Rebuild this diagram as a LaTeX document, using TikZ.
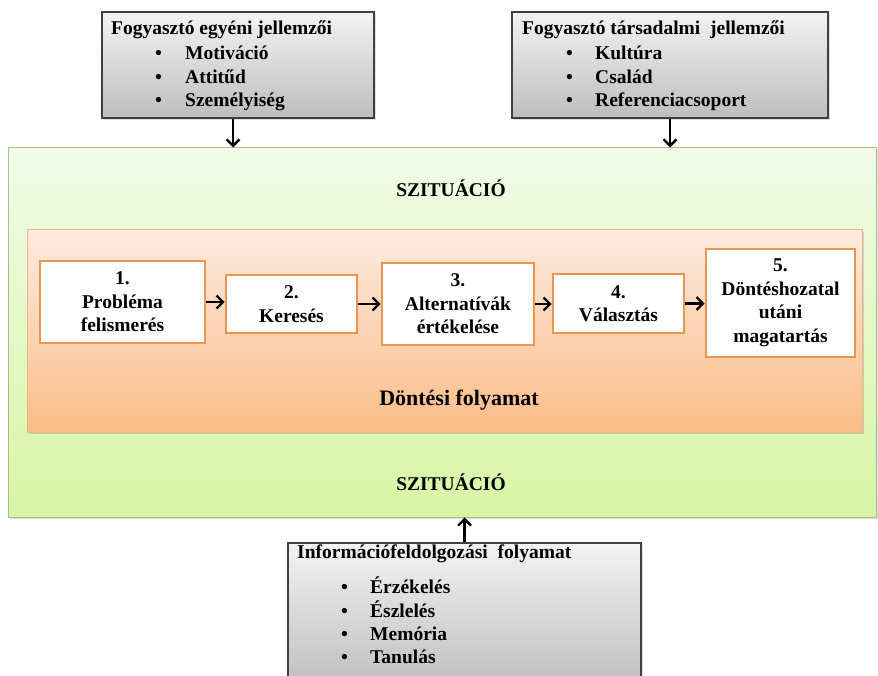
\documentclass[tikz,border=0pt]{standalone}
\usepackage{fontspec}
\setmainfont{Liberation Serif}
\usetikzlibrary{arrows.meta,shadows}
\definecolor{grayTop}{HTML}{F3F3F3}
\definecolor{grayBot}{HTML}{BDBDBD}
\definecolor{grayLine}{HTML}{404040}
\definecolor{greenTop}{HTML}{F1FBE7}
\definecolor{greenBot}{HTML}{D6F5A4}
\definecolor{greenLine}{HTML}{A8BD8C}
\definecolor{orTop}{HTML}{FDEADF}
\definecolor{orBot}{HTML}{FBBD88}
\definecolor{orLine}{HTML}{F0B488}
\definecolor{stepLine}{HTML}{EA9550}
\begin{document}
\begin{tikzpicture}[x=1pt,y=-1pt,
  graybox/.style={rectangle, draw=grayLine, line width=1.1pt, top color=grayTop, bottom color=grayBot, inner sep=0pt,
    drop shadow={opacity=0.25, shadow xshift=2pt, shadow yshift=-2pt}},
  greenbox/.style={rectangle, draw=greenLine, line width=1pt, top color=greenTop, bottom color=greenBot, inner sep=0pt,
    drop shadow={opacity=0.25, shadow xshift=2pt, shadow yshift=-2pt}},
  orangebox/.style={rectangle, draw=orLine, line width=1pt, top color=orTop, bottom color=orBot, inner sep=0pt,
    drop shadow={opacity=0.3, shadow xshift=2pt, shadow yshift=-2pt}},
  stepbox/.style={rectangle, draw=stepLine, line width=2.6pt, fill=white, inner sep=0pt, align=center,
    font=\fontsize{19.5}{23.5}\selectfont\bfseries},
  txt/.style={inner sep=0pt, font=\fontsize{19.5}{23.5}\selectfont\bfseries},
  line/.style={txt, anchor=base west},
  arr/.style={line width=2.4pt, -{Straight Barb[length=6.5pt,width=13pt]}}
]
\useasboundingbox (0,0) rectangle (878,676);

% top gray boxes
\node[graybox, minimum width=272pt, minimum height=106pt] (ind) at (238,65) {};
\node[graybox, minimum width=316pt, minimum height=106pt] (soc) at (670,65) {};

% green situation box
\node[greenbox, minimum width=868pt, minimum height=369pt] (sit) at (442,332.5) {};
% orange decision box
\node[orangebox, minimum width=835pt, minimum height=202pt] (dec) at (444.5,331) {};

% bottom gray box
\node[graybox, minimum width=353pt, minimum height=147pt] (info) at (464.5,616.5) {};

% texts of the top-left box
\node[line] (t1) at (111,35) {Fogyasztó egyéni jellemzői};
\node[line] (t1a) at (155,60) {\makebox[30pt][l]{•}Motiváció};
\node[line] (t1b) at (155,84) {\makebox[30pt][l]{•}Attitűd};
\node[line] (t1c) at (155,107) {\makebox[30pt][l]{•}Személyiség};

% texts of the top-right box
\node[line] (t2) at (522,35) {Fogyasztó társadalmi\ \ jellemzői};
\node[line] (t2a) at (566,60) {\makebox[29pt][l]{•}Kultúra};
\node[line] (t2b) at (566,84) {\makebox[29pt][l]{•}Család};
\node[line] (t2c) at (566,107) {\makebox[29pt][l]{•}Referenciacsoport};

% texts of the bottom box
\node[line] (t3) at (297,558) {Információfeldolgozási\ \ folyamat};
\node[line] (t3a) at (341,593) {\makebox[29pt][l]{•}Érzékelés};
\node[line] (t3b) at (341,617) {\makebox[29pt][l]{•}Észlelés};
\node[line] (t3c) at (341,640) {\makebox[29pt][l]{•}Memória};
\node[line] (t3d) at (341,663) {\makebox[29pt][l]{•}Tanulás};

% labels
\node[txt, anchor=base] (sz1) at (451,197) {SZITUÁCIÓ};
\node[txt, anchor=base] (sz2) at (451,490) {SZITUÁCIÓ};
\node[inner sep=0pt, anchor=base, font=\fontsize{22}{26}\selectfont\bfseries] (df) at (459,405) {Döntési folyamat};

% steps
\node[stepbox, minimum width=165pt, minimum height=82pt] (s1) at (122.5,302) {1.\\Probléma\\felismerés};
\node[stepbox, minimum width=131pt, minimum height=58pt] (s2) at (291.5,304) {2.\\Keresés};
\node[stepbox, minimum width=152pt, minimum height=82pt] (s3) at (458,304) {3.\\Alternatívák\\értékelése};
\node[stepbox, minimum width=131pt, minimum height=59pt] (s4) at (618.5,303.5) {4.\\Választás};
\node[stepbox, minimum width=149pt, minimum height=108pt] (s5) at (780.5,303) {5.\\Döntéshozatal\\utáni\\magatartás};

% step arrows
\draw[arr] (s1.east) -- (s1.east -| s2.west);
\draw[arr] (s2.east) -- (s2.east -| s3.west);
\draw[arr] (s3.east) -- (s3.east -| s4.west);
\draw[arr] (s4.east) -- (s4.east -| s5.west);

% influence arrows
\draw[arr] ([xshift=-5pt]ind.south) -- ([xshift=-5pt]ind.south |- sit.north);
\draw[arr] (soc.south) -- (soc.south |- sit.north);
\draw[arr] (info.north) -- (info.north |- sit.south);
\end{tikzpicture}
\end{document}
